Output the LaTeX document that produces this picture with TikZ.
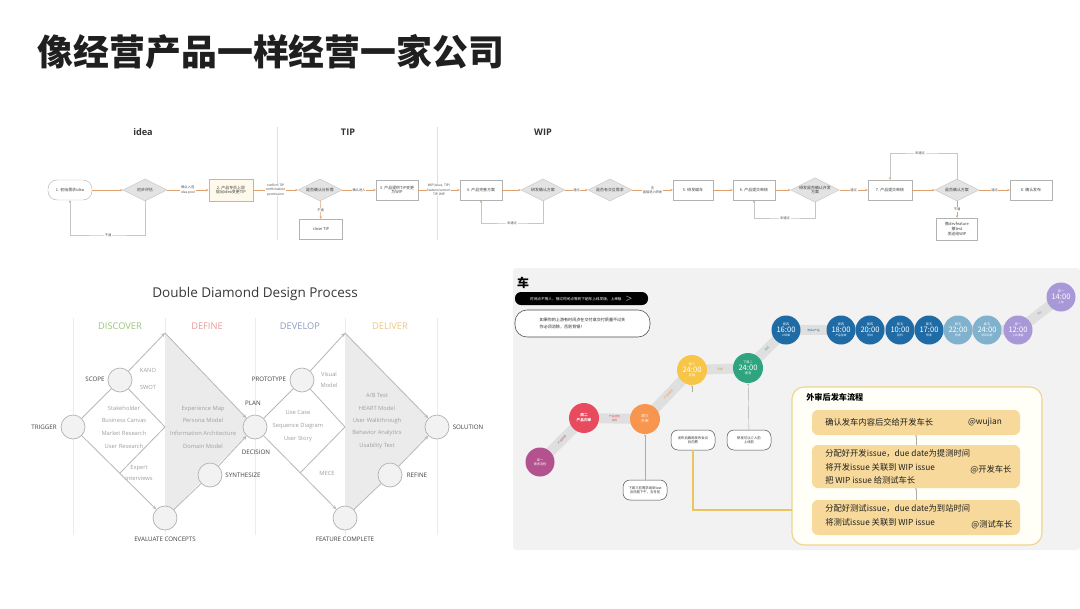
\documentclass[tikz,border=0pt]{standalone}
\usepackage{fontspec}
\setmainfont{Noto Sans CJK SC}
\newfontfamily\lat{Open Sans}
\usetikzlibrary{shapes.geometric,arrows.meta,calc}
\newdimen\px \px=0.025cm
\newcommand{\fz}[2]{\fontsize{#1pt}{#2pt}\selectfont}
\definecolor{forange}{HTML}{DEA06E}
\definecolor{hl}{HTML}{E8B54A}
\definecolor{hlfill}{HTML}{FFF9EC}
\definecolor{cplum}{HTML}{B4528F}
\definecolor{cred}{HTML}{E94B5E}
\definecolor{corg}{HTML}{F89650}
\definecolor{cyel}{HTML}{F7C548}
\definecolor{cgrn}{HTML}{2FA47F}
\definecolor{cblue}{HTML}{1E6BA6}
\definecolor{clblue}{HTML}{80B2CE}
\definecolor{clav}{HTML}{A898D8}
\definecolor{panelbg}{HTML}{F2F2F2}
\definecolor{tanbox}{HTML}{F7D99B}
\definecolor{tanborder}{HTML}{EFD48E}
\definecolor{ylin}{HTML}{EBC462}
\definecolor{cdisc}{HTML}{9CC47E}
\definecolor{cdef}{HTML}{E79A9A}
\definecolor{cdev}{HTML}{8B9BC0}
\definecolor{cdel}{HTML}{F0C77A}
\pgfdeclarelayer{back}\pgfdeclarelayer{mid}
\pgfsetlayers{back,mid,main}
\tikzset{
 fbox/.style={draw=gray!60, line width=0.3pt, fill=white, minimum width=42\px, minimum height=20\px, inner sep=0.5pt, font=\fz{2.8}{3.5}, align=center, text=black!75},
 fdia/.style={diamond, aspect=2, draw=gray!45, fill=gray!22, line width=0.3pt, minimum width=44\px, minimum height=22\px, inner sep=0pt, font=\fz{2.8}{3.5}, align=center, text=black!75},
 flab/.style={font=\fz{2.3}{2.9}, align=center, text=black!70, inner sep=0.5pt, fill=white},
 farr/.style={draw=forange, line width=0.35pt, -{Stealth[length=1.8pt,width=1.6pt]}},
 larr/.style={draw=gray!45, line width=0.35pt, -{Stealth[length=1.8pt,width=1.6pt,color=forange]}},
 hdr/.style={font=\lat\bfseries\fz{6.5}{7}, text=black!80},
 ddc/.style={circle, draw=gray!60, fill=gray!10, minimum size=24\px, inner sep=0pt, line width=0.5pt},
 ddl/.style={draw=gray!55, line width=0.6pt},
 ddla/.style={ddl, -{Stealth[length=2.8pt,width=2.5pt]}},
 ddtxt/.style={font=\lat\fz{4.1}{5}, text=gray!75, align=center, inner sep=0pt},
 ddcap/.style={font=\lat\fz{4.4}{5}, text=black!75, inner sep=0pt},
 phase/.style={font=\lat\fz{6.6}{7}, inner sep=0pt},
 band/.style={line width=10\px, draw=gray!25},
 blab/.style={font=\fz{1.9}{2.3}, sloped, inner sep=0pt},
 tc/.style={circle, minimum size=29\px, inner sep=0pt, text=white, align=center, font=\fz{2.2}{2.7}},
 sbox/.style={draw=black!70, line width=0.35pt, fill=white, rounded corners=7\px, minimum width=44\px, minimum height=20\px, inner sep=0.5pt, font=\fz{2.4}{3.1}, align=center, text=black!80},
 tan/.style={fill=tanbox, rounded corners=6\px, inner sep=0pt},
 ptxt/.style={font=\fz{5.9}{9.8}, text=black!88, inner sep=0pt},
 thin/.style={draw=gray!65, line width=0.3pt},
}
\begin{document}
\begin{tikzpicture}[x=0.025cm, y=-0.025cm]
\useasboundingbox (0,0) rectangle (1080,608);
\begin{pgfonlayer}{back}
\fill[white] (0,0) rectangle (1080,608);
\fill[panelbg, rounded corners=3\px] (513,268) rectangle (1080,550);
\end{pgfonlayer}

% ---------- title ----------
\node[font=\fz{25.5}{28}\bfseries, text=black!88, inner sep=0pt] (title) at (271,52) {像经营产品一样经营一家公司};

% ---------- top flow ----------
\node[hdr] (hIdea) at (143,132) {idea};
\node[hdr] (hTip) at (348,132) {TIP};
\node[hdr] (hWip) at (543,132) {WIP};
\draw[gray!25, line width=0.4pt] (277,127) -- (277,240);
\draw[gray!25, line width=0.4pt] (437,127) -- (437,240);

\node[fbox, rounded corners=9\px, minimum width=44\px] (f1) at (70,190) {1. 初始需求idea};
\node[fdia] (f2) at (145,190) {初步评估};
\node[fbox, draw=hl, line width=0.6pt, fill=hlfill, minimum width=44\px, minimum height=22\px] (f3) at (231,190) {2. 产品专员上层\\提出idea变更TIP};
\node[fdia] (f4) at (320,190) {是否确认分析需};
\node[fbox, minimum width=43\px] (f4n) at (321,229) {close TIP};
\node[fbox] (f5) at (397,190) {3. 产品提供TIP变更\\为WIP};
\node[fbox] (f6) at (481,190) {4. 产品完善方案};
\node[fdia] (f7) at (543,190) {研发确认方案};
\node[fdia] (f8) at (610,190) {是否有交互需求};
\node[fbox, minimum width=40\px] (f9) at (693,190) {5. 研发编车};
\node[fbox] (f10) at (754,190) {6. 产品提交审核};
\node[fdia, minimum width=48\px, minimum height=24\px] (f11) at (815,190) {研发是否确认开发\\方案};
\node[fbox, minimum width=44\px] (f12) at (890,190) {7. 产品提交审核};
\node[fdia] (f13) at (957,190) {是否确认方案};
\node[fbox] (f14) at (1031,190) {8. 确认发布};
\node[fbox, minimum width=41\px, minimum height=22\px] (f13n) at (957,229) {撤devfeature\\撤test\\发送给WIP};

\draw[farr] (f1) -- (f2);
\draw[farr] (f2) -- node[flab] (e1) {确认入选\\idea pool} (f3);
\draw[farr] (f3) -- node[flab] (e2) {confirm TIP\\confirmation\\permission} (f4);
\draw[farr] (f4) -- node[flab] (e3) {确认进入} (f5);
\draw[farr] (f4) -- node[flab] (e4) {不通} (f4n);
\draw[farr] (f5) -- node[flab] (e5) {WIP(issue, TIP)\\feature/version\\TIP, WIP} (f6);
\draw[farr] (f6) -- (f7);
\draw[farr] (f7) -- node[flab] (e6) {通过} (f8);
\draw[farr] (f8) -- node[flab] (e7) {无\\直接进入研发} (f9);
\draw[farr] (f9) -- (f10);
\draw[farr] (f10) -- (f11);
\draw[farr] (f11) -- node[flab] (e8) {通过} (f12);
\draw[farr] (f12) -- (f13);
\draw[farr] (f13) -- node[flab] (e9) {通过} (f14);
\draw[farr] (f13) -- node[flab] (e10) {不通} (f13n);
\coordinate (l1) at (108,235);
\draw[larr] (f2.south) |- (l1) -| (f1.south);
\node[flab] (e11) at (l1) {不通};
\coordinate (l2) at (512,223);
\draw[larr] (f7.south) |- (l2) -| (f6.south);
\node[flab] (e12) at (l2) {未通过};
\coordinate (l3) at (785,218);
\draw[larr] (f11.south) |- (l3) -| (f10.south);
\node[flab] (e13) at (l3) {未通过};
\coordinate (l4) at (920,153);
\draw[larr] (f13.north) |- (l4) -| (f12.north);
\node[flab] (e14) at (l4) {未通过};

% ---------- double diamond ----------
\node[font=\lat\fz{9.6}{11}, text=black!78, inner sep=0pt] (ddt) at (255,294) {Double Diamond Design Process};
\foreach \xx in {73,165,255,345,437} \draw[gray!15, line width=0.5pt] (\xx,318) -- (\xx,535);
\fill[gray!16] (165,333) -- (255,427) -- (165,518) -- cycle;
\fill[gray!16] (345,333) -- (437,427) -- (345,518) -- cycle;
\node[phase, text=cdisc] (pDis) at (120,326) {DISCOVER};
\node[phase, text=cdef] (pDef) at (207,326) {DEFINE};
\node[phase, text=cdev] (pDev) at (300,326) {DEVELOP};
\node[phase, text=cdel] (pDel) at (390,326) {DELIVER};

\coordinate (top1) at (165,333);
\coordinate (mid1) at (165,427);
\coordinate (low1) at (120,473);
\coordinate (top2) at (345,333);
\coordinate (mid2) at (345,427);
\coordinate (low2) at (300,473);
\node[ddc] (trig) at (73,427) {};
\node[ddc] (scope) at (120,380) {};
\node[ddc] (plan) at (255,427) {};
\node[ddc] (eval) at (165,518) {};
\node[ddc] (synth) at (210,475) {};
\node[ddc] (proto) at (302,380) {};
\node[ddc] (sol) at (437,427) {};
\node[ddc] (feat) at (345,518) {};
\node[ddc] (refine) at (390,475) {};

\draw[ddl] (trig) -- (scope);
\draw[ddla] (scope) -- (top1);
\draw[ddla] (top1) -- (plan);
\draw[ddl] (scope) -- (mid1);
\draw[ddl] (mid1) -- (low1);
\draw[ddla] (trig) -- (eval);
\draw[ddl] (eval) -- (synth);
\draw[ddla] (synth) -- (plan);
\draw[ddl] (plan) -- (proto);
\draw[ddla] (proto) -- (top2);
\draw[ddla] (top2) -- (sol);
\draw[ddl] (proto) -- (mid2);
\draw[ddl] (mid2) -- (low2);
\draw[ddla] (plan) -- (feat);
\draw[ddl] (feat) -- (refine);
\draw[ddla] (refine) -- (sol);

\node[ddcap] (tTrig) at (44,427) {TRIGGER};
\node[ddcap] (tScope) at (95,379) {SCOPE};
\node[ddcap] (tPlan) at (253,403) {PLAN};
\node[ddcap] (tDec) at (256,452) {DECISION};
\node[ddcap] (tSyn) at (243,475) {SYNTHESIZE};
\node[ddcap] (tEval) at (165,539) {EVALUATE CONCEPTS};
\node[ddcap] (tProto) at (269,379) {PROTOTYPE};
\node[ddcap] (tSol) at (468,427) {SOLUTION};
\node[ddcap] (tRef) at (417,475) {REFINE};
\node[ddcap] (tFeat) at (345,539) {FEATURE COMPLETE};

\node[ddtxt] (kano) at (148,370) {KANO};
\node[ddtxt] (swot) at (148,387) {SWOT};
\node[ddtxt, font=\lat\fz{4.1}{9}] (disc) at (124,427) {Stakeholder\\Business Canvas\\Market Research\\User Research};
\node[ddtxt, font=\lat\fz{4.1}{7.6}] (expert) at (139,473) {Expert\\interviews};
\node[ddtxt, font=\lat\fz{4.1}{9}] (defi) at (203,427) {Experience Map\\Persona Model\\Information Architecture\\Domain Model};
\node[ddtxt, font=\lat\fz{4.1}{7.6}] (vis) at (329,380) {Visual\\Model};
\node[ddtxt, font=\lat\fz{4.1}{9}] (devi) at (298,426) {Use Case\\Sequence Diagram\\User Story};
\node[ddtxt] (mece) at (327,473) {MECE};
\node[ddtxt, font=\lat\fz{4.1}{8.8}] (deli) at (377,421) {A/B Test\\HEART Model\\User Walkthrough\\Behavior Analytics\\Usability Test};

% ---------- right panel ----------
\node[font=\fz{8.5}{9}\bfseries, inner sep=0pt] (che) at (523,283) {车};
\node[fill=black, rounded corners=6\px, minimum width=133\px, minimum height=13\px, inner sep=0pt, text=white, font=\fz{2.6}{3}] (pill) at (581.5,298.5) {时间点不等人，错过时间点等到下趟车上线发版，上串版\quad$>$};
\node[draw=black!70, line width=0.4pt, fill=white, rounded corners=12\px, minimum width=135\px, minimum height=27\px, inner sep=0pt, font=\fz{2.9}{4.4}, align=left, text=black!85] (bub) at (582.5,323.5) {如果你的上游有时间点在交付或交付质量不过关\\你必须消除，否则背锅！};

\node[tc, fill=cplum] (c1) at (540,462) {周一\\需求流程};
\node[tc, fill=cred, minimum size=30\px, font=\fz{2.6}{3.3}\bfseries] (c2) at (584,418) {周二\\产品内审};
\node[tc, fill=corg, minimum size=30\px, font=\fz{2.6}{3.3}] (c3) at (645,419) {周三\\外审};
\node[tc, fill=cyel, minimum size=30\px] (c4) at (692,370) {周三\\\fz{5.4}{5.8}24:00\\\fz{2.2}{2.7}定稿};
\node[tc, fill=cgrn, minimum size=30\px] (c5) at (748,368) {下周二\\\fz{5.4}{5.8}24:00\\\fz{2.2}{2.7}提测};
\node[tc, fill=cblue] (c6) at (786,330) {周四\\\fz{5.4}{5.8}16:00\\\fz{2}{2.5}UI评审};
\node[tc, fill=cblue] (c7) at (841,330) {周四\\\fz{5.4}{5.8}18:00\\\fz{2}{2.5}产品验收};
\node[tc, fill=cblue] (c8) at (870,330) {周四\\\fz{5.4}{5.8}20:00\\\fz{2}{2.5}测试};
\node[tc, fill=cblue] (c9) at (900,330) {周五\\\fz{5.4}{5.8}10:00\\\fz{2}{2.5}回归};
\node[tc, fill=cblue] (c10) at (929,330) {周五\\\fz{5.4}{5.8}17:00\\\fz{2}{2.5}预发};
\node[tc, fill=clblue] (c11) at (958,330) {周五\\\fz{5.4}{5.8}22:00\\\fz{2}{2.5}预发};
\node[tc, fill=clblue] (c12) at (987,330) {周五\\\fz{5.4}{5.8}24:00\\\fz{2}{2.5}项目封板};
\node[tc, fill=clav] (c13) at (1018,330) {周一\\\fz{5.4}{5.8}12:00\\\fz{2}{2.5}上线准备};
\node[tc, fill=clav] (c14) at (1061,297) {周一\\\fz{5.4}{5.8}14:00\\\fz{2}{2.5}上线};

\begin{pgfonlayer}{mid}
\draw[band] (c1.center) -- node[blab, text=cplum] (bl1) {产品经理} (c2.center);
\draw[band] (c2.center) -- node[blab, text=cred, align=center] (bl2) {产品经理\\实现} (c3.center);
\draw[band] (c3.center) -- node[blab, text=corg] (bl3) {产品\&研发} (c4.center);
\draw[band] (c4.center) -- node[blab, text=cyel!80!black] (bl4) {开发} (c5.center);
\draw[band] (c5.center) -- node[blab, text=cgrn] (bl5) {测试} (c6.center);
\draw[band] (c6.center) -- node[blab, text=cblue] (bl6) {测试\&产品} (c7.center);
\draw[band] (c7.center) -- (c13.center);
\draw[band] (c13.center) -- node[blab, text=clav] (bl7) {发布} (c14.center);
\end{pgfonlayer}

\node[sbox] (b1) at (645,490) {下周三前需求给到test\\没问题下午，五号前};
\node[sbox] (b2) at (693,440) {发布后跟踪发布会议\\后向费};
\node[sbox] (b3) at (749,440) {研发可以介入前\\上线前};
\draw[thin, -{Stealth[length=1.4pt,width=1.4pt]}] (b1) -- (c3);
\draw[thin, -{Stealth[length=1.4pt,width=1.4pt]}] (b3) -- (c5);
\coordinate (tk) at (692,392);
\draw[thin, -{Stealth[length=1.4pt,width=1.4pt]}] (tk) -- (c4);

% ---------- release panel ----------
\node[draw=tanborder, line width=0.8pt, fill=white!97!yellow, rounded corners=12\px, minimum width=250\px, minimum height=158\px, inner sep=0pt] (op) at (917,466) {};
\coordinate (yl) at (792,510);
\draw[ylin, line width=0.8pt] (b2.south) |- (yl);
\node[font=\fz{5.8}{6}\bfseries, anchor=west, inner sep=0pt] (opt) at (806,397) {外审后发车流程};
\node[tan, minimum width=208\px, minimum height=25\px] (t1) at (916,422.5) {};
\node[tan, minimum width=208\px, minimum height=43\px] (t2) at (916,466.5) {};
\node[tan, minimum width=208\px, minimum height=35\px] (t3) at (916,517.5) {};
\draw[thin, {Circle[length=1.1pt]}-] (t1.south) -- (t2.north);
\draw[thin, {Circle[length=1.1pt]}-] (t2.south) -- (t3.north);
\node[ptxt, anchor=west] (t1a) at (825,422) {确认发车内容后交给开发车长};
\node[ptxt] (t1b) at (985,422) {@wujian};
\node[ptxt, anchor=west, align=left] (t2a) at (825,467) {分配好开发issue，due date为提测时间\\将开发issue 关联到 WIP issue\\把 WIP issue 给测试车长};
\node[ptxt] (t2b) at (991,470) {@开发车长};
\node[ptxt, anchor=west, align=left] (t3a) at (825,515.5) {分配好测试issue，due date为到站时间\\将测试issue 关联到 WIP issue};
\node[ptxt] (t3b) at (992,525) {@测试车长};
\end{tikzpicture}
\end{document}
